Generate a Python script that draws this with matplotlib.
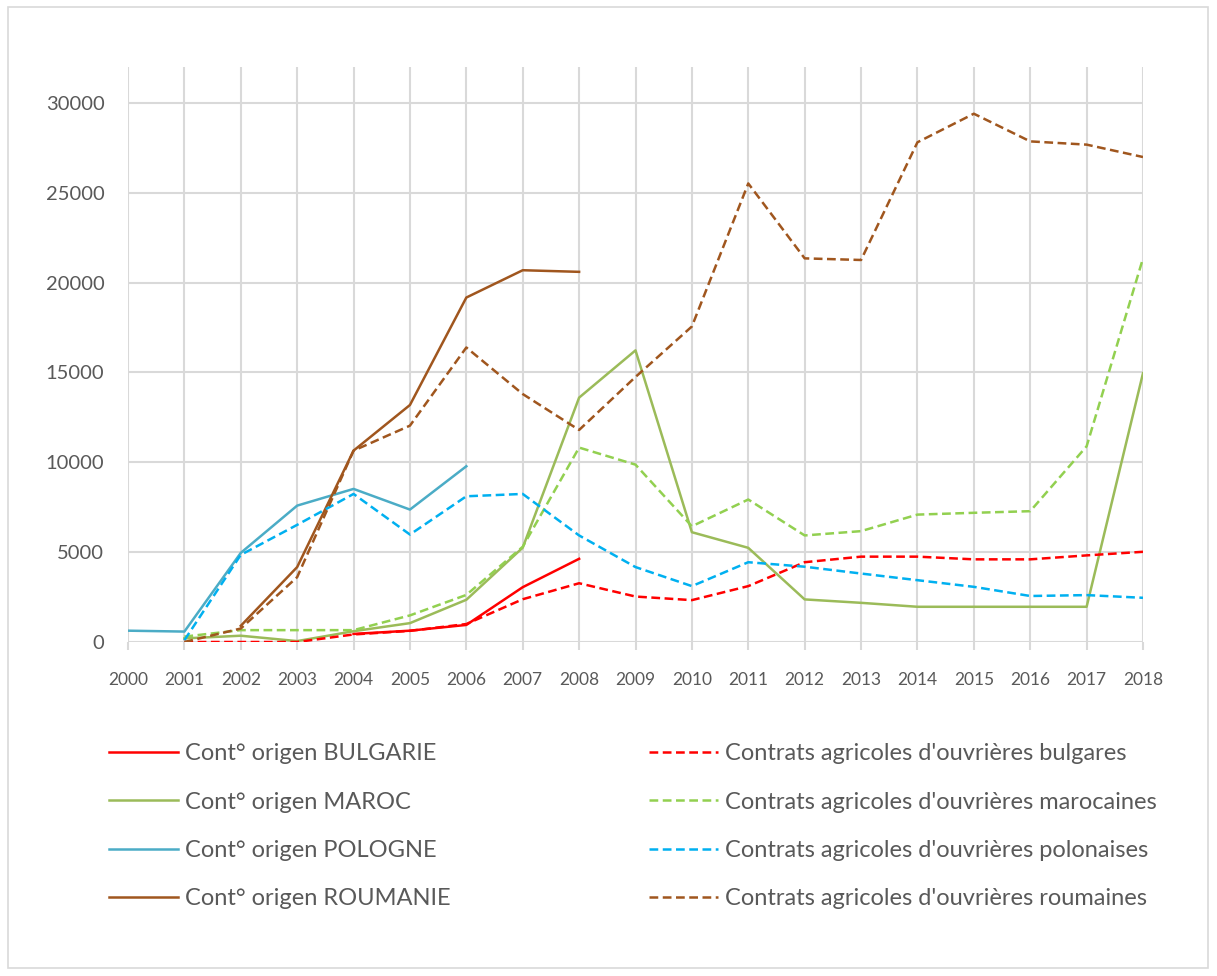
import numpy as np
import matplotlib.pyplot as plt
from matplotlib.patches import Rectangle

nan = np.nan

# years on the x axis
years = list(range(2000, 2019))

# continent of origin (solid lines)
bulg_origin = [nan, nan, nan, nan, 450, 630, 950, 3050, 4630,
               nan, nan, nan, nan, nan, nan, nan, nan, nan, nan]
maroc_origin = [nan, 200, 350, 50, 600, 1050, 2350, 5250, 13600, 16230,
                6110, 5240, 2370, 2180, 1960, 1960, 1960, 1960, 14960]
pol_origin = [630, 580, 4960, 7590, 8520, 7370, 9780,
              nan, nan, nan, nan, nan, nan, nan, nan, nan, nan, nan, nan]
roum_origin = [nan, nan, 900, 4170, 10650, 13190, 19170, 20690, 20600,
               nan, nan, nan, nan, nan, nan, nan, nan, nan, nan]

# agricultural contracts (dashed lines)
bulg_contr = [nan, 0, 0, 0, 420, 620, 1000, 2380, 3270, 2530,
              2330, 3110, 4440, 4750, 4750, 4600, 4600, 4820, 5020]
maroc_contr = [nan, 300, 660, 660, 660, 1480, 2620, 5300, 10820, 9870,
               6440, 7930, 5930, 6170, 7090, 7190, 7280, 10890, 21350]
pol_contr = [nan, 100, 4850, 6520, 8240, 5980, 8110, 8240, 5930, 4170,
             3110, 4440, 4190, 3810, 3440, 3070, 2560, 2610, 2460]
roum_contr = [nan, 0, 750, 3610, 10650, 12040, 16390, 13800, 11800, 14750,
              17560, 25520, 21350, 21260, 27810, 29400, 27860, 27680, 26990]

solid_labels = ["Cont° origen BULGARIE", "Cont° origen MAROC",
                "Cont° origen POLOGNE", "Cont° origen ROUMANIE"]
dash_labels = ["Contrats agricoles d'ouvrières bulgares",
               "Contrats agricoles d'ouvrières marocaines",
               "Contrats agricoles d'ouvrières polonaises",
               "Contrats agricoles d'ouvrières roumaines"]

plt.rcParams['font.family'] = ['Lato', 'DejaVu Sans']

grey_txt = '#595959'
grid_col = '#d9d9d9'

fig = plt.figure(figsize=(12.17, 9.76), dpi=100)
fig.patch.set_facecolor('white')

# light frame around the chart
fig.patches.append(Rectangle((8 / 1217, 1 - 968 / 976), 1200 / 1217, 961 / 976,
                             transform=fig.transFigure, fill=False,
                             edgecolor=grid_col, linewidth=1.2))

ax = fig.add_axes([128 / 1217, 1 - 642 / 976, 1015 / 1217, 575 / 976])

lw = 1.8
dash = (3.5, 1.8)
solid_series = [(bulg_origin, '#ff0000'), (maroc_origin, '#9bbb59'),
                (pol_origin, '#4bacc6'), (roum_origin, '#a0561e')]
dash_series = [(bulg_contr, '#ff0000'), (maroc_contr, '#92d050'),
               (pol_contr, '#00b0f0'), (roum_contr, '#a0561e')]

handles = []
for (vals, col), lab in zip(solid_series, solid_labels):
    h, = ax.plot(years, vals, color=col, lw=lw, label=lab, zorder=3)
    handles.append(h)
for (vals, col), lab in zip(dash_series, dash_labels):
    h, = ax.plot(years, vals, color=col, lw=lw, dashes=dash, label=lab, zorder=3)
    handles.append(h)

ax.set_xlim(2000, 2018)
ax.set_ylim(0, 32000)
ax.set_xticks(years)
ax.set_xticklabels([str(y) for y in years])
ax.set_yticks(range(0, 30001, 5000))

for s in ax.spines.values():
    s.set_visible(False)
ax.grid(True, color=grid_col, linewidth=1.5, zorder=0)
ax.set_axisbelow(True)
ax.tick_params(axis='y', length=0, pad=17, labelsize=14.5, labelcolor=grey_txt)
ax.tick_params(axis='x', length=6, width=1.5, color=grid_col, pad=15.5,
               labelsize=12.5, labelcolor=grey_txt)

leg = fig.legend(handles=handles, ncol=2, loc='upper left',
                 bbox_to_anchor=(88 / 1217, 1 - 722 / 976),
                 frameon=False, fontsize=17, labelcolor=grey_txt,
                 handlelength=2.92, handletextpad=0.3, columnspacing=8.4,
                 labelspacing=1.16)

fig.savefig('out.png', dpi=100, facecolor='white')
